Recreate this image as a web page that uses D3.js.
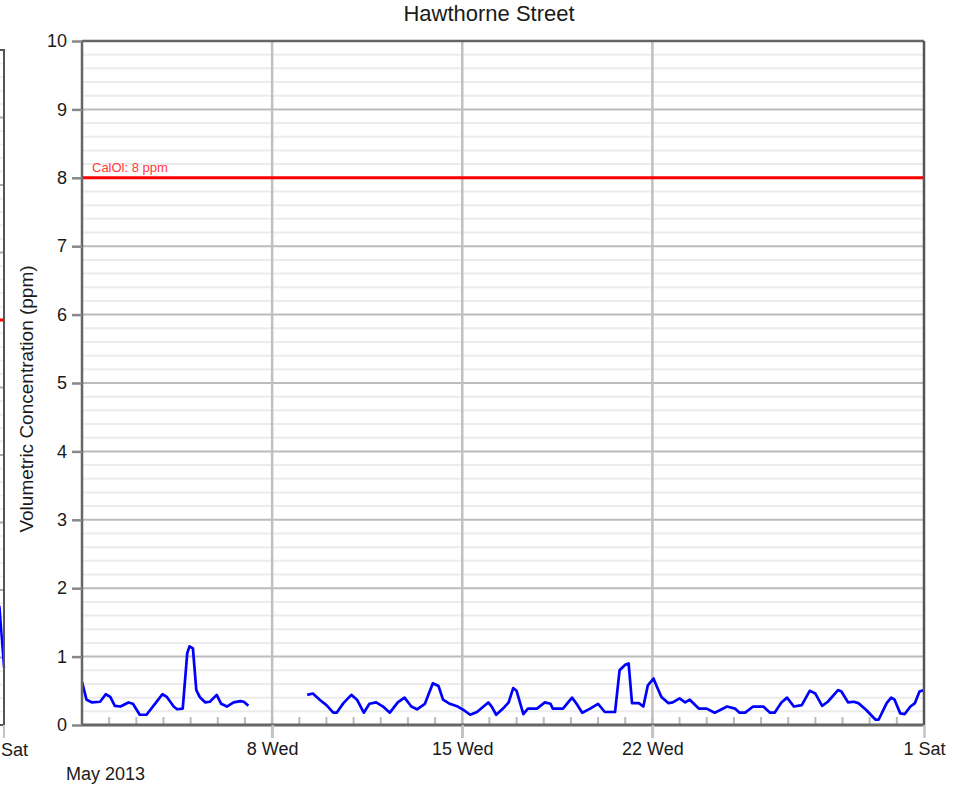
<!DOCTYPE html>
<html><head><meta charset="utf-8">
<script src="https://cdn.jsdelivr.net/npm/d3@7"></script>
<style>body{margin:0;background:#fff}svg{display:block}text{font-family:"Liberation Sans",Arial,sans-serif}</style>
</head><body><svg id="c" width="967" height="788"></svg>
<script>
// ---- data ----
const title = "Hawthorne Street";
const yLabel = "Volumetric Concentration (ppm)";
const monthLabel = "May 2013";
const limitValue = 8;
const limitLabel = "CalOl: 8 ppm";
const yTicks = [0,1,2,3,4,5,6,7,8,9,10];
const xTickDates = ["2013-05-08","2013-05-15","2013-05-22","2013-06-01"];
const xTickLabels = ["8 Wed","15 Wed","22 Wed","1 Sat"];
// hours since 2013-05-01 00:00 and CO concentration (ppm); null = no data
const hours = [0,4,9,16,21,25,29,34,41,45,51,57,65,71,75,81,84,89,93,95,98,101,104,109,113,119,123,128,134,140,143,147,
  170,
  199,204,210,216,222,225,231,238,243,249,254,260,266,272,279,285,291,296,303,310,315,319,325,332,337,343,349,359,362,366,372,377,381,384,390,394,402,409,414,416,425,433,437,442,449,456,462,471,475,480,483,486,492,496,500,505,508,512,518,522,528,533,537,545,552,559,564,570,577,581,586,593,602,608,612,618,623,629,636,643,648,654,659,668,671,677,682,686,693,701,704,711,715,718,723,727,732,736,740,744];
const values = [0.63,0.37,0.33,0.34,0.45,0.41,0.28,0.27,0.33,0.31,0.15,0.15,0.32,0.45,0.41,0.27,0.23,0.24,1.05,1.15,1.12,0.51,0.41,0.33,0.34,0.44,0.31,0.27,0.33,0.35,0.34,0.28,
  null,
  0.44,0.46,0.37,0.29,0.18,0.18,0.32,0.44,0.37,0.18,0.31,0.33,0.27,0.18,0.33,0.40,0.27,0.23,0.31,0.61,0.57,0.37,0.31,0.27,0.22,0.15,0.19,0.33,0.27,0.15,0.24,0.33,0.54,0.50,0.16,0.24,0.24,0.33,0.31,0.24,0.24,0.40,0.31,0.18,0.24,0.31,0.19,0.19,0.80,0.88,0.90,0.32,0.32,0.27,0.58,0.68,0.56,0.41,0.32,0.33,0.39,0.33,0.37,0.24,0.24,0.18,0.22,0.27,0.24,0.18,0.18,0.27,0.27,0.18,0.18,0.33,0.40,0.27,0.29,0.50,0.46,0.28,0.34,0.51,0.49,0.33,0.34,0.32,0.22,0.08,0.08,0.32,0.40,0.37,0.17,0.16,0.27,0.32,0.49,0.51];
// neighbouring chart, only its right edge is visible
const prevHours = [732,736,740,744];
const prevValues = [1.6,1.9,1.75,0.85];
const prevLimit = 6;

// ---- layout ----
const svg = d3.select("#c");
const L = 82, R = 924, T = 41, B = 725;
const t0 = Date.UTC(2013,4,1);
const toDate = h => new Date(t0 + h*3600e3);
const x = d3.scaleUtc().domain([new Date(Date.UTC(2013,4,1)), new Date(Date.UTC(2013,5,1))]).range([L, R]);
const y = d3.scaleLinear().domain([0,10]).range([B, T]);
const xp = d3.scaleUtc().domain(x.domain()).range([-838, 4]);
const yp = d3.scaleLinear().domain([0,10]).range([725, 50]);

const minor = d3.range(0, 10.001, 0.2).filter(v => Math.abs(v - Math.round(v)) > 0.01);

// previous chart fragment
const gp = svg.append("g");
gp.selectAll(".pm").data(minor).join("line").attr("x1", 0).attr("x2", 4).attr("y1", d=>yp(d)).attr("y2", d=>yp(d)).attr("stroke", "#eee").attr("stroke-width", 2);
gp.selectAll(".pM").data(yTicks).join("line").attr("x1", 0).attr("x2", 4).attr("y1", d=>yp(d)).attr("y2", d=>yp(d)).attr("stroke", "#aaa").attr("stroke-width", 2);
gp.append("line").attr("x1", 0).attr("x2", 4).attr("y1", yp(prevLimit)).attr("y2", yp(prevLimit)).attr("stroke", "#f00").attr("stroke-width", 3);
gp.append("path").datum(prevHours.map((h,i)=>[toDate(h), prevValues[i]]))
  .attr("d", d3.line().x(d=>xp(d[0])).y(d=>yp(d[1]))).attr("fill","none").attr("stroke","#0000ff").attr("stroke-width",2.5);
gp.append("line").attr("x1", 0).attr("x2", 5).attr("y1", yp(10)).attr("y2", yp(10)).attr("stroke", "#555").attr("stroke-width", 2);
gp.append("line").attr("x1", 0).attr("x2", 5).attr("y1", yp(0)).attr("y2", yp(0)).attr("stroke", "#555").attr("stroke-width", 2);
gp.append("line").attr("x1", xp.range()[1]).attr("x2", xp.range()[1]).attr("y1", yp(10)).attr("y2", yp(0)).attr("stroke", "#555").attr("stroke-width", 2);
gp.append("line").attr("x1", xp.range()[1]).attr("x2", xp.range()[1]).attr("y1", yp(0)).attr("y2", yp(0)+13).attr("stroke", "#c4c4c4").attr("stroke-width", 2);
gp.append("text").attr("x", xp(new Date(Date.UTC(2013,5,1)))+3).attr("y", 756).attr("text-anchor","middle").attr("font-size",18).attr("fill","#1a1a1a").text("1 Sat");

// main chart grid
const g = svg.append("g");
g.selectAll(".mn").data(minor).join("line").attr("x1", L).attr("x2", R).attr("y1", d=>y(d)).attr("y2", d=>y(d)).attr("stroke", "#ececec").attr("stroke-width", 2);
g.selectAll(".mj").data(yTicks.slice(1,-1)).join("line").attr("x1", L).attr("x2", R).attr("y1", d=>y(d)).attr("y2", d=>y(d)).attr("stroke", "#bcbcbc").attr("stroke-width", 2);
const tickDates = xTickDates.map(s => new Date(s + "T00:00:00Z"));
g.selectAll(".vg").data(tickDates.slice(0,-1)).join("line").attr("x1", d=>x(d)).attr("x2", d=>x(d)).attr("y1", T).attr("y2", B+13).attr("stroke", "#c0c0c0").attr("stroke-width", 2.5);

// daily ticks inside the plot
const days = d3.utcDay.range(new Date(Date.UTC(2013,4,2)), new Date(Date.UTC(2013,5,1)));
g.selectAll(".dt").data(days).join("line").attr("x1", d=>x(d)).attr("x2", d=>x(d)).attr("y1", B).attr("y2", B-8).attr("stroke", "#bbb").attr("stroke-width", 2);

// limit line
g.append("line").attr("x1", L).attr("x2", R).attr("y1", y(limitValue)).attr("y2", y(limitValue)).attr("stroke", "#ff0000").attr("stroke-width", 3);
g.append("text").attr("x", L+10).attr("y", y(limitValue)-6).attr("font-size", 13).attr("fill", "#ff3a3a").text(limitLabel);

// data line
const pts = hours.map((h,i)=>[toDate(h), values[i]]);
g.append("path").datum(pts)
  .attr("d", d3.line().defined(d=>d[1]!==null).x(d=>x(d[0])).y(d=>y(d[1])))
  .attr("fill","none").attr("stroke","#0000ff").attr("stroke-width",2.7).attr("stroke-linejoin","round");

// borders
g.append("line").attr("x1", L).attr("x2", R).attr("y1", T).attr("y2", T).attr("stroke", "#666").attr("stroke-width", 2.5);
g.append("line").attr("x1", R).attr("x2", R).attr("y1", T).attr("y2", B).attr("stroke", "#555").attr("stroke-width", 2.5);
g.append("line").attr("x1", L).attr("x2", L).attr("y1", T).attr("y2", B).attr("stroke", "#666").attr("stroke-width", 2.5);

// y axis
const ya = svg.append("g").attr("transform", `translate(${L},0)`)
  .call(d3.axisLeft(y).tickValues(yTicks).tickSize(10).tickPadding(5).tickFormat(d3.format("d")));
ya.select(".domain").remove();
ya.selectAll(".tick line").attr("stroke", "#888").attr("stroke-width", 2.5);
ya.selectAll(".tick text").attr("font-size", 18).attr("fill", "#1a1a1a").attr("font-family", "Liberation Sans, Arial, sans-serif");

// x axis
const xa = svg.append("g").attr("transform", `translate(0,${B})`)
  .call(d3.axisBottom(x).tickValues(tickDates).tickSize(13).tickPadding(4).tickFormat((d,i)=>xTickLabels[i]));
xa.select(".domain").attr("d", `M${L},0H${R}`).attr("stroke", "#666").attr("stroke-width", 3);
xa.selectAll(".tick line").attr("stroke", "#c4c4c4").attr("stroke-width", 2.5);
xa.selectAll(".tick text").attr("font-size", 18).attr("fill", "#1a1a1a").attr("font-family", "Liberation Sans, Arial, sans-serif");

// titles
svg.append("text").attr("x", 489).attr("y", 21).attr("text-anchor","middle").attr("font-size", 22).attr("fill","#1a1a1a").text(title);
svg.append("text").attr("transform", "translate(33,399) rotate(-90)").attr("text-anchor","middle").attr("font-size", 19).attr("fill","#1a1a1a").text(yLabel);
svg.append("text").attr("x", 66).attr("y", 780).attr("font-size", 18).attr("fill","#1a1a1a").text(monthLabel);
</script></body></html>
